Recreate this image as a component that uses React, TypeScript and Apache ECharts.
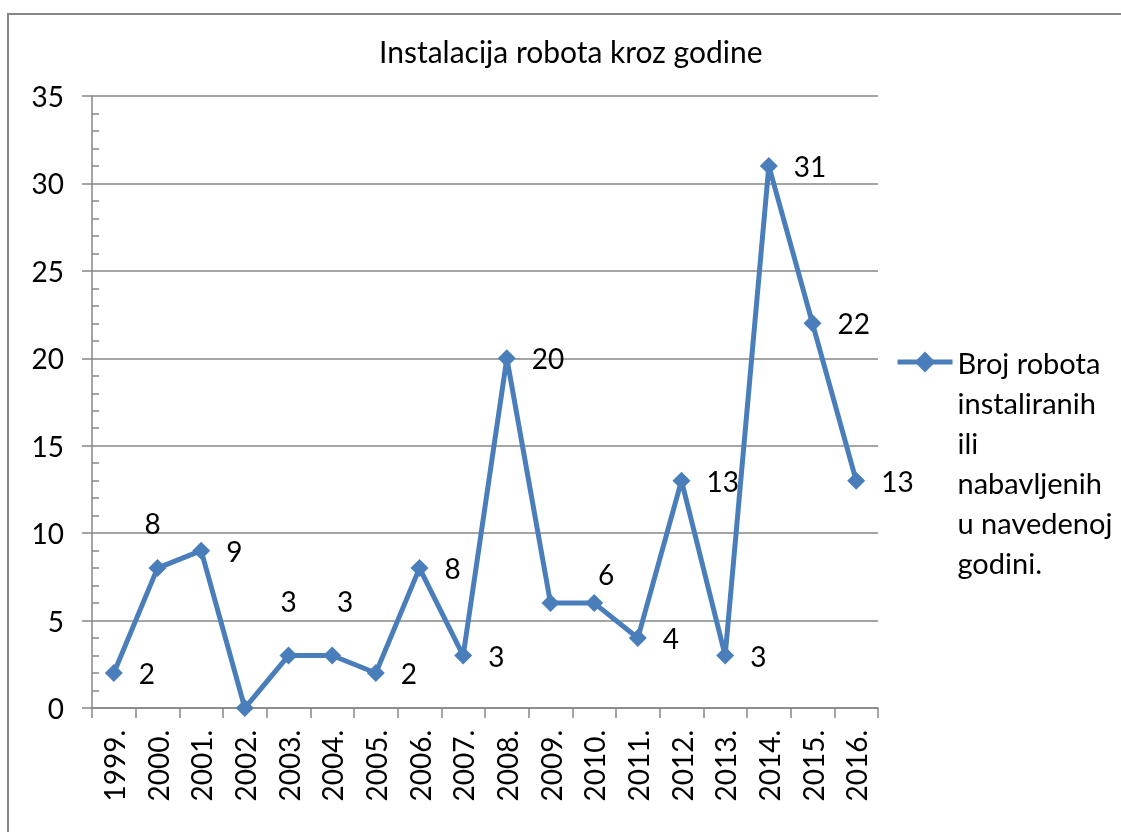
import React, { useEffect, useRef } from "react";
import * as echarts from "echarts";

const years = ["1999.", "2000.", "2001.", "2002.", "2003.", "2004.", "2005.", "2006.", "2007.", "2008.", "2009.", "2010.", "2011.", "2012.", "2013.", "2014.", "2015.", "2016."];
const robots = [2, 8, 9, 0, 3, 3, 2, 8, 3, 20, 6, 6, 4, 13, 3, 31, 22, 13];
const seriesName = "Broj robota instaliranih ili nabavljenih u navedenoj godini.";
const legendLines = ["Broj robota", "instaliranih", "ili", "nabavljenih", "u navedenoj", "godini."];
const titleText = "Instalacija robota kroz godine";
// label placement per point: "right" | "top" | "none"
const labelPos = ["right", "top", "right", "none", "top", "top", "right", "right", "right", "right", "none", "top", "right", "right", "right", "right", "right", "right"];

const FONT = "Lato";
const GREY = "#878787";
const BLUE = "#4A7EBB";

export default function App() {
  const ref = useRef<HTMLDivElement>(null);
  useEffect(() => {
    if (!ref.current) return;
    const chart = echarts.init(ref.current, null, { renderer: "svg" });
    const data = robots.map((v, i) => {
      const p = labelPos[i];
      if (p === "none") return { value: v, label: { show: false } };
      if (p === "top") {
        const off = i === 1 ? [-5, 0] : i === 4 ? [0, -10] : i === 5 ? [13, -10] : [12, 0];
        return { value: v, label: { show: true, position: "top", distance: i === 11 ? 6 : 22, offset: off } };
      }
      return { value: v, label: { show: true, position: "right", distance: 16 } };
    });
    // blank lines on top so the first text line sits level with the legend icon
    const legendText = ["", "", "", "", ""].concat(legendLines).join("\n");
    chart.setOption({
      animation: false,
      textStyle: { fontFamily: FONT },
      title: {
        text: titleText,
        left: 379,
        top: 36,
        padding: 0,
        textStyle: { fontFamily: FONT, fontSize: 30, fontWeight: "normal", color: "#000" },
      },
      graphic: [
        {
          type: "rect",
          shape: { x: 8, y: 14, width: 1200, height: 900 },
          style: { fill: "none", stroke: GREY, lineWidth: 2 },
          silent: true,
        },
      ],
      legend: {
        left: 895,
        top: 142,
        padding: 0,
        itemWidth: 55,
        itemHeight: 26,
        data: [seriesName],
        formatter: () => legendText,
        lineStyle: { width: 5, color: BLUE },
        itemStyle: { color: BLUE },
        textStyle: {
          fontFamily: FONT,
          fontSize: 29,
          color: "#000",
          lineHeight: 40,
        },
      },
      grid: { left: 92, right: 243, top: 96, bottom: 124, containLabel: false },
      xAxis: {
        type: "category",
        data: years,
        boundaryGap: true,
        axisLine: { lineStyle: { color: GREY, width: 1.5 } },
        axisTick: { show: true, interval: 0, length: 10, lineStyle: { color: GREY, width: 1.5 } },
        axisLabel: { rotate: 90, margin: 22, interval: 0, fontFamily: FONT, fontSize: 28, color: "#000" },
      },
      yAxis: [
        {
          type: "value",
          min: 0,
          max: 35,
          interval: 5,
          axisLine: { show: true, lineStyle: { color: GREY, width: 1.5 } },
          axisTick: { show: true, length: 10, lineStyle: { color: GREY, width: 1.5 } },
          splitLine: { show: true, lineStyle: { color: GREY, width: 1.5 } },
          axisLabel: { margin: 28, fontFamily: FONT, fontSize: 28, color: "#000" },
        },
        {
          type: "value",
          min: 0,
          max: 35,
          interval: 5,
          position: "left",
          axisLine: { show: false },
          axisTick: { show: false, inside: true },
          minorTick: { show: true, splitNumber: 5, length: 7, lineStyle: { color: GREY, width: 1.5 } },
          splitLine: { show: false },
          axisLabel: { show: false },
        },
      ],
      series: [
        {
          name: seriesName,
          type: "line",
          data,
          symbol: "diamond",
          symbolSize: 18,
          lineStyle: { color: BLUE, width: 5 },
          itemStyle: { color: BLUE },
          label: { fontFamily: FONT, fontSize: 28, color: "#000" },
        },
      ],
    });
    return () => chart.dispose();
  }, []);
  return <div ref={ref} style={{ position: "fixed", left: 0, top: 0, width: 1121, height: 832 }} />;
}
